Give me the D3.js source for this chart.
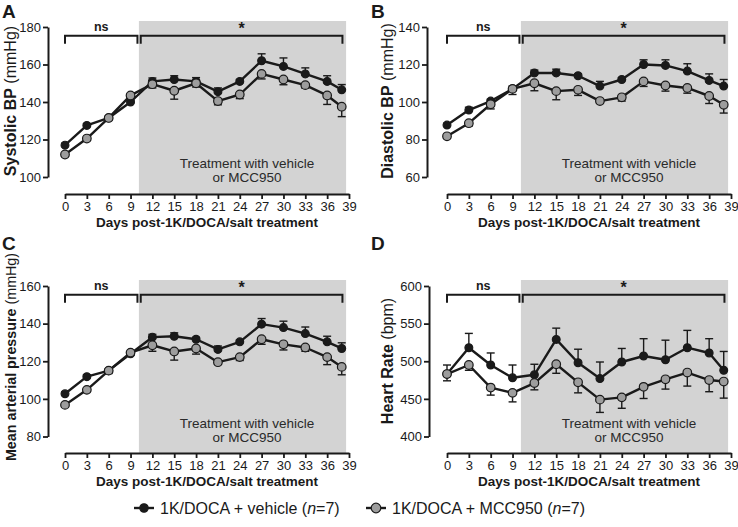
<!DOCTYPE html>
<html>
<head>
<meta charset="utf-8">
<script src="https://cdn.jsdelivr.net/npm/d3@7"></script>
<style>
  html, body { margin: 0; padding: 0; background: #fff; }
  svg { display: block; font-family: "Liberation Sans", Arial, Helvetica, sans-serif; }
</style>
</head>
<body>
<svg id="chart" width="738" height="527"></svg>
<script>
// ---------------- data ----------------
const days = [0, 3, 6, 9, 12, 15, 18, 21, 24, 27, 30, 33, 36, 38];
const xTickValues = [0, 3, 6, 9, 12, 15, 18, 21, 24, 27, 30, 33, 36, 39];
const seriesNames = ["1K/DOCA + vehicle", "1K/DOCA + MCC950"];

const sbpVehicle    = [117, 127.5, 131.5, 140, 151, 152, 151, 145.5, 151, 162, 159, 155, 151, 146.5];
const sbpVehicleErr = [1, 1, 1, 1, 1.8, 2, 2, 2, 1, 3.7, 4.5, 3.2, 3, 2.8];
const sbpMcc        = [112, 120.5, 131.5, 143.5, 149.5, 146, 150, 140.5, 144, 155, 152, 149, 143.5, 137.5];
const sbpMccErr     = [1, 1, 1, 1, 2, 4.5, 2, 2, 2.2, 2.7, 2.8, 1.6, 4.8, 5.3];

const dbpVehicle    = [87.7, 95.7, 100.5, 107, 115.5, 115.5, 114, 108.5, 112, 120, 119.5, 116.5, 111.5, 108.5];
const dbpVehicleErr = [1, 1.5, 1, 1.5, 1.5, 2, 1, 2.5, 1, 2.5, 3, 3.9, 3.5, 3.5];
const dbpMcc        = [81.7, 88.7, 98.8, 107, 110, 105.8, 106.5, 100.5, 102.5, 111, 108.8, 107.5, 103.2, 98.5];
const dbpMccErr     = [0.8, 1.5, 2.5, 3, 4, 4.6, 3, 1, 2, 2.7, 3, 2.8, 4, 4.4];

const mapVehicle    = [102.7, 111.8, 115, 124, 132.8, 133.3, 131.7, 126.3, 130.3, 139.7, 137.9, 134.7, 130.3, 126.8];
const mapVehicleErr = [1, 1, 1, 1, 1.5, 1.8, 1, 1.8, 1, 3, 3.4, 3.5, 3, 3];
const mapMcc        = [96.8, 104.8, 115, 124.6, 128.5, 125.2, 126.8, 119.5, 122.2, 131.7, 129, 127.3, 122.2, 117];
const mapMccErr     = [1, 1, 1.5, 1.5, 3.2, 4.6, 3, 1, 1.8, 2.7, 3, 2, 4, 4.2];

const hrVehicle     = [483, 518, 495, 478, 482, 529, 498, 477, 499, 507, 502, 518, 511, 488];
const hrVehicleErr  = [12, 19, 16, 17, 14, 15, 18, 22, 18, 23, 26, 23, 19, 25];
const hrMcc         = [483, 495, 465, 458, 471, 496, 472, 449, 452, 466, 476, 485, 475, 473];
const hrMccErr      = [9, 7, 10, 12, 9, 12, 14, 17, 14.5, 15.5, 13, 18, 15.5, 22];

const sbpTicks = [100, 120, 140, 160, 180];
const dbpTicks = [60, 80, 100, 120, 140];
const mapTicks = [80, 100, 120, 140, 160];
const hrTicks  = [400, 450, 500, 550, 600];

const xTitle = "Days post-1K/DOCA/salt treatment";
const treatmentLines = ["Treatment with vehicle", "or MCC950"];
const nsBracket = [0, 9.95];
const starBracket = [10.4, 38.1];
const shadeRange = [10.15, 38.6];

// ---------------- drawing ----------------
const svg = d3.select("#chart");
const INK = "#1a1a1a";
const GREY_FILL = "#9d9d9d";
const SHADE = "#d3d3d3";

function panel(cfg) {
  const g = svg.append("g");
  const x = d3.scaleLinear().domain([0, 39]).range([cfg.x0, cfg.x39]);
  const y = d3.scaleLinear().domain([cfg.ticks[0], cfg.ticks[cfg.ticks.length - 1]])
                            .range([cfg.yBot, cfg.yTop]);
  const topY = cfg.yTop;

  // shaded treatment region
  g.append("rect")
    .attr("x", x(shadeRange[0])).attr("y", topY - 6)
    .attr("width", x(shadeRange[1]) - x(shadeRange[0]))
    .attr("height", cfg.xAxisY - (topY - 6))
    .attr("fill", SHADE);

  // treatment text
  const tt = g.append("text")
    .attr("x", x(25)).attr("text-anchor", "middle")
    .attr("font-size", 13.5).attr("fill", "#2a2a2a");
  tt.append("tspan").attr("x", x(25)).attr("y", cfg.yBot - 9).text(treatmentLines[0]);
  tt.append("tspan").attr("x", x(25)).attr("y", cfg.yBot + 5).text(treatmentLines[1]);

  // brackets
  const by = topY + 8.7, drop = 8;
  [[nsBracket, "ns", 12.5], [starBracket, "*", 16]].forEach(([b, lab, fs]) => {
    g.append("path")
      .attr("d", `M${x(b[0])},${by + drop}V${by}H${x(b[1])}V${by + drop}`)
      .attr("fill", "none").attr("stroke", INK).attr("stroke-width", 2);
    g.append("text")
      .attr("x", (x(b[0]) + x(b[1])) / 2)
      .attr("y", lab === "ns" ? by - 5 : by - 1.5)
      .attr("text-anchor", "middle").attr("font-weight", "bold")
      .attr("font-size", fs).attr("fill", INK).text(lab);
  });

  // y axis
  const yAxis = d3.axisLeft(y).tickValues(cfg.ticks).tickSize(5).tickPadding(2).tickSizeOuter(0);
  const ya = g.append("g").attr("transform", `translate(${cfg.yAxisX},0)`).call(yAxis);
  ya.select(".domain").attr("stroke", INK).attr("stroke-width", 2);
  ya.selectAll(".tick line").attr("stroke", INK).attr("stroke-width", 1.8);
  ya.selectAll(".tick text").attr("font-size", 13).attr("fill", INK)
    .attr("font-family", "Liberation Sans, Arial, sans-serif");

  // x axis
  const xAxis = d3.axisBottom(x).tickValues(xTickValues).tickSize(5).tickPadding(3).tickSizeOuter(0);
  const xa = g.append("g").attr("transform", `translate(0,${cfg.xAxisY})`).call(xAxis);
  xa.select(".domain").attr("stroke", INK).attr("stroke-width", 2);
  xa.selectAll(".tick line").attr("stroke", INK).attr("stroke-width", 1.8);
  xa.selectAll(".tick text").attr("font-size", 13).attr("fill", INK)
    .attr("font-family", "Liberation Sans, Arial, sans-serif");

  // x title
  g.append("text").attr("x", (cfg.x0 + cfg.x39) / 2).attr("y", cfg.xAxisY + 33)
    .attr("text-anchor", "middle").attr("font-weight", "bold").attr("font-size", 13.5)
    .attr("fill", INK).text(xTitle);

  // y title
  const yt = g.append("text")
    .attr("transform", `translate(${cfg.yTitleX},${cfg.yTitleY}) rotate(-90)`)
    .attr("text-anchor", "middle").attr("font-size", cfg.yTitleSize).attr("fill", INK);
  yt.append("tspan").attr("font-weight", "bold").text(cfg.yBold);
  yt.append("tspan").text(" " + cfg.yUnit);

  // panel letter
  g.append("text").attr("x", cfg.letterX).attr("y", cfg.letterY)
    .attr("font-weight", "bold").attr("font-size", 19).attr("fill", INK).text(cfg.letter);

  // series
  const series = [
    { vals: cfg.vehicle, err: cfg.vehicleErr, dir: -1, fill: INK, r: 3.9 },
    { vals: cfg.mcc, err: cfg.mccErr, dir: 1, fill: GREY_FILL, r: 4.3 }
  ];
  const line = d3.line().x(d => x(d[0])).y(d => y(d[1]));
  series.forEach(s => {
    const pts = days.map((d, i) => [d, s.vals[i], s.err[i]]);
    // error bars (one-sided)
    pts.forEach(p => {
      const yv = y(p[1]);
      const ye = y(p[1] - s.dir * p[2]);
      g.append("line").attr("x1", x(p[0])).attr("x2", x(p[0]))
        .attr("y1", yv).attr("y2", ye).attr("stroke", INK).attr("stroke-width", 1.4);
      g.append("line").attr("x1", x(p[0]) - 4).attr("x2", x(p[0]) + 4)
        .attr("y1", ye).attr("y2", ye).attr("stroke", INK).attr("stroke-width", 1.4);
    });
    g.append("path").datum(pts).attr("d", line)
      .attr("fill", "none").attr("stroke", INK).attr("stroke-width", 2.4)
      .attr("stroke-linejoin", "round");
    g.selectAll(null).data(pts).enter().append("circle")
      .attr("cx", d => x(d[0])).attr("cy", d => y(d[1])).attr("r", s.r)
      .attr("fill", s.fill).attr("stroke", INK).attr("stroke-width", 1.2);
  });
}

panel({ letter: "A", letterX: 2, letterY: 18, x0: 65, x39: 349, yAxisX: 48, yTop: 27, yBot: 177, xAxisY: 194,
  ticks: sbpTicks, yBold: "Systolic BP", yUnit: "(mmHg)", yTitleX: 15.5, yTitleY: 101, yTitleSize: 16,
  vehicle: sbpVehicle, vehicleErr: sbpVehicleErr, mcc: sbpMcc, mccErr: sbpMccErr });
panel({ letter: "B", letterX: 371, letterY: 18, x0: 447, x39: 731, yAxisX: 427, yTop: 27, yBot: 177, xAxisY: 194,
  ticks: dbpTicks, yBold: "Diastolic BP", yUnit: "(mmHg)", yTitleX: 393, yTitleY: 101, yTitleSize: 16,
  vehicle: dbpVehicle, vehicleErr: dbpVehicleErr, mcc: dbpMcc, mccErr: dbpMccErr });
panel({ letter: "C", letterX: 2, letterY: 250, x0: 65, x39: 349, yAxisX: 48, yTop: 286, yBot: 436.5, xAxisY: 453,
  ticks: mapTicks, yBold: "Mean arterial pressure", yUnit: "(mmHg)", yTitleX: 15.5, yTitleY: 357, yTitleSize: 14.3,
  vehicle: mapVehicle, vehicleErr: mapVehicleErr, mcc: mapMcc, mccErr: mapMccErr });
panel({ letter: "D", letterX: 371, letterY: 250, x0: 447, x39: 731, yAxisX: 429, yTop: 286, yBot: 436.5, xAxisY: 453,
  ticks: hrTicks, yBold: "Heart Rate", yUnit: "(bpm)", yTitleX: 393, yTitleY: 361, yTitleSize: 16,
  vehicle: hrVehicle, vehicleErr: hrVehicleErr, mcc: hrMcc, mccErr: hrMccErr });

// ---------------- legend ----------------
const legend = svg.append("g");
const legendItems = [
  { name: seriesNames[0], x: 134, fill: INK, r: 4.2 },
  { name: seriesNames[1], x: 366, fill: GREY_FILL, r: 4.8 }
];
legendItems.forEach(it => {
  legend.append("line").attr("x1", it.x).attr("x2", it.x + 20).attr("y1", 508).attr("y2", 508)
    .attr("stroke", INK).attr("stroke-width", 2.4);
  legend.append("circle").attr("cx", it.x + 10).attr("cy", 508).attr("r", it.r)
    .attr("fill", it.fill).attr("stroke", INK).attr("stroke-width", 1.2);
  const t = legend.append("text").attr("x", it.x + 26).attr("y", 514)
    .attr("font-size", 16).attr("fill", INK);
  t.append("tspan").text(it.name + " (");
  t.append("tspan").attr("font-style", "italic").text("n");
  t.append("tspan").text("=7)");
});
</script>
</body>
</html>
